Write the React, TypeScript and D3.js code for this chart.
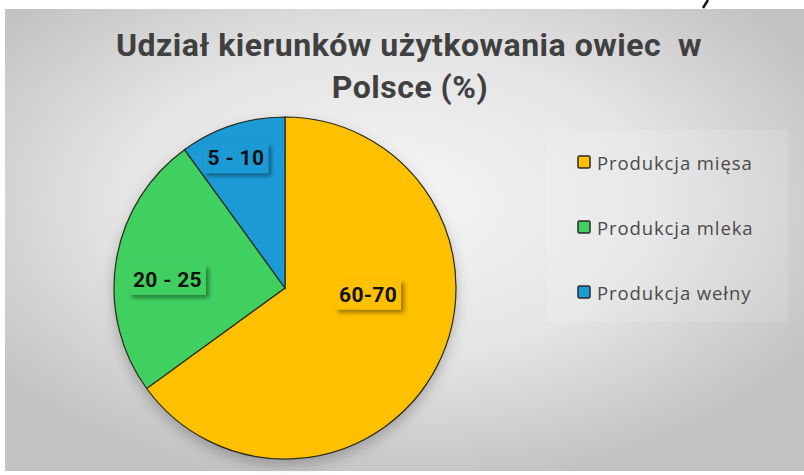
import React, { useEffect, useRef } from "react";
import * as d3 from "d3";

const categories = ["Produkcja mięsa", "Produkcja mleka", "Produkcja wełny"];
const values = [65, 25, 10];
const labels = ["60-70", "20 - 25", "5 - 10"];
const colors = ["#FFC000", "#40D060", "#1B9AD6"];
const titleLines = ["Udział kierunków użytkowania owiec  w", "Polsce (%)"];

// label placement (fraction of radius, angle in degrees clockwise from 12 o'clock)
const labelLayout = [
  { r: 0.487, a: 94.5 },
  { r: 0.689, a: 273.9 },
  { r: 0.812, a: 339.3 },
];

const W = 804;
const H = 475;

export default function App() {
  const ref = useRef<SVGSVGElement>(null);

  useEffect(() => {
    const svg = d3.select(ref.current);
    svg.selectAll("*").remove();

    const defs = svg.append("defs");
    const rg = defs
      .append("radialGradient")
      .attr("id", "bg")
      .attr("cx", "48%")
      .attr("cy", "42%")
      .attr("r", "62%");
    rg.append("stop").attr("offset", "0%").attr("stop-color", "#f6f6f6");
    rg.append("stop").attr("offset", "55%").attr("stop-color", "#e4e4e4");
    rg.append("stop").attr("offset", "100%").attr("stop-color", "#c2c2c2");

    const ps = defs.append("filter").attr("id", "pieShadow").attr("x", "-20%").attr("y", "-20%").attr("width", "140%").attr("height", "150%");
    ps.append("feDropShadow")
      .attr("dx", 0)
      .attr("dy", 6)
      .attr("stdDeviation", 7)
      .attr("flood-color", "#000")
      .attr("flood-opacity", 0.25);

    const ls = defs.append("filter").attr("id", "lblShadow").attr("x", "-20%").attr("y", "-30%").attr("width", "150%").attr("height", "180%");
    ls.append("feDropShadow")
      .attr("dx", 3)
      .attr("dy", 3)
      .attr("stdDeviation", 2.2)
      .attr("flood-color", "#000")
      .attr("flood-opacity", 0.4);

    // background
    svg.append("rect").attr("width", W).attr("height", H).attr("fill", "#ffffff");
    svg
      .append("rect")
      .attr("x", 5)
      .attr("y", 9)
      .attr("width", W - 5)
      .attr("height", 462)
      .attr("fill", "url(#bg)");

    // stray mark at top
    svg
      .append("line")
      .attr("x1", 708)
      .attr("y1", 0)
      .attr("x2", 703)
      .attr("y2", 8)
      .attr("stroke", "#111")
      .attr("stroke-width", 2.5);

    // title
    const title = svg
      .append("text")
      .attr("text-anchor", "middle")
      .attr("font-family", "Roboto, 'DejaVu Sans', sans-serif")
      .attr("font-weight", 700)
      .attr("font-size", 32)
      .attr("letter-spacing", 0.5)
      .attr("fill", "#404040");
    title.append("tspan").attr("x", 409).attr("y", 56).attr("xml:space", "preserve").text(titleLines[0]);
    title.append("tspan").attr("x", 410).attr("y", 98).text(titleLines[1]);

    // pie
    const cx = 285;
    const cy = 288;
    const R = 171;
    const pie = d3
      .pie<number>()
      .sort(null)
      .value((d) => d);
    const arcs = pie(values);
    const arc = d3.arc<d3.PieArcDatum<number>>().innerRadius(0).outerRadius(R);

    const g = svg.append("g").attr("transform", `translate(${cx},${cy})`);
    g.append("circle").attr("r", R).attr("fill", "#888").attr("filter", "url(#pieShadow)");
    g.selectAll("path.slice")
      .data(arcs)
      .join("path")
      .attr("class", "slice")
      .attr("d", arc as any)
      .attr("fill", (_, i) => colors[i])
      .attr("stroke", "#2a2a1a")
      .attr("stroke-width", 1.2);

    // labels
    arcs.forEach((_, i) => {
      const L = labelLayout[i];
      const ang = (L.a * Math.PI) / 180;
      const x = Math.sin(ang) * R * L.r;
      const y = -Math.cos(ang) * R * L.r;
      const lg = g.append("g").attr("transform", `translate(${x},${y})`);
      const rect = lg.append("rect").attr("fill", colors[i]).attr("filter", "url(#lblShadow)");
      const t = lg
        .append("text")
        .attr("text-anchor", "middle")
        .attr("dominant-baseline", "central")
        .attr("font-family", "Roboto, 'DejaVu Sans', sans-serif")
        .attr("font-weight", 700)
        .attr("font-size", 21)
        .attr("letter-spacing", 0.3)
        .attr("fill", "#111")
        .text(labels[i]);
      const bb = (t.node() as SVGTextElement).getBBox();
      rect
        .attr("x", -bb.width / 2 - 4)
        .attr("y", -15)
        .attr("width", bb.width + 8)
        .attr("height", 30);
    });

    // legend
    svg
      .append("rect")
      .attr("x", 547)
      .attr("y", 130)
      .attr("width", 241)
      .attr("height", 192)
      .attr("fill", "#ffffff")
      .attr("fill-opacity", 0.12);

    const ly = d3.scalePoint<string>().domain(categories).range([162, 292]);
    const leg = svg
      .selectAll("g.leg")
      .data(categories)
      .join("g")
      .attr("class", "leg")
      .attr("transform", (d) => `translate(578,${ly(d)})`);
    leg
      .append("rect")
      .attr("x", 0)
      .attr("y", -6)
      .attr("width", 12)
      .attr("height", 12)
      .attr("rx", 1.5)
      .attr("fill", (_, i) => colors[i])
      .attr("stroke", "#2a2a2a")
      .attr("stroke-width", 1.5);
    leg
      .append("text")
      .attr("x", 19)
      .attr("y", 0)
      .attr("dominant-baseline", "central")
      .attr("font-family", "'Open Sans', 'DejaVu Sans', sans-serif")
      .attr("font-size", 18.5)
      .attr("letter-spacing", 0.9)
      .attr("fill", "#4a4a4a")
      .text((d) => d);
  }, []);

  return (
    <svg
      ref={ref}
      width={W}
      height={H}
      style={{ position: "absolute", left: 0, top: 0, display: "block" }}
    />
  );
}
